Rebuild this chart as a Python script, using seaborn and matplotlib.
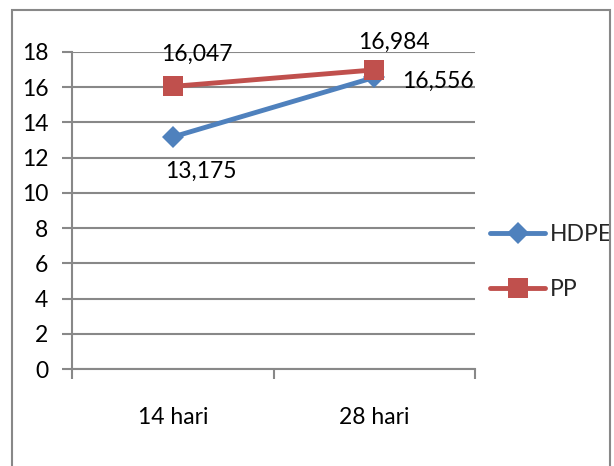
import pandas as pd
import seaborn as sns
import matplotlib.pyplot as plt
from matplotlib.patches import Rectangle

# data
categories = ['14 hari', '28 hari']
hdpe = [13.175, 16.556]
pp = [16.047, 16.984]
series_names = ['HDPE', 'PP']

df = pd.DataFrame({
    'umur': categories * 2,
    'nilai': hdpe + pp,
    'bahan': [series_names[0]] * 2 + [series_names[1]] * 2,
})

sns.set_style('white')
plt.rcParams['font.family'] = ['Lato', 'DejaVu Sans']
fs = 16.5

fig = plt.figure(figsize=(6.14, 4.66), dpi=100)
ax = fig.add_axes([72 / 614, 1 - 369 / 466, (475 - 72) / 614, (369 - 52) / 466])

grid_col = '#888888'
palette = {'HDPE': '#4F81BD', 'PP': '#C0504D'}
sns.lineplot(data=df, x='umur', y='nilai', hue='bahan', style='bahan',
             palette=palette, markers={'HDPE': 'D', 'PP': 's'}, dashes=False,
             linewidth=3.5, markersize=11, markeredgewidth=0, ax=ax)
for ln in ax.lines:
    if ln.get_marker() == 's':
        ln.set_markersize(14)

ax.set_xlim(-0.5, 1.5)
ax.set_ylim(0, 18)
ax.set_yticks(range(0, 19, 2))
ax.yaxis.grid(True, color=grid_col, linewidth=1.5)
ax.set_axisbelow(True)
ax.set_xlabel('')
ax.set_ylabel('')
for s in ['top', 'right']:
    ax.spines[s].set_visible(False)
for s in ['left', 'bottom']:
    ax.spines[s].set_color(grid_col)
    ax.spines[s].set_linewidth(1.5)

ax.tick_params(axis='y', left=True, length=7, width=1.5, color=grid_col,
               pad=10, labelsize=fs, labelcolor='black')
ax.tick_params(axis='x', which='major', bottom=True, length=0, pad=27,
               labelsize=fs, labelcolor='black')
ax.set_xticks([-0.5, 0.5, 1.5], minor=True)
ax.tick_params(axis='x', which='minor', bottom=True, length=7, width=1.5,
               color=grid_col)

# data labels (offsets in pixels)
offsets = {'HDPE': [(28, -34), (64, -4)], 'PP': [(24, 32), (20, 28)]}
for name, vals in zip(series_names, [hdpe, pp]):
    for i, v in enumerate(vals):
        dx, dy = offsets[name][i]
        ax.annotate(f'{v:.3f}'.replace('.', ','), (i, v), xytext=(dx, dy),
                    textcoords='offset pixels', ha='center', va='center',
                    fontsize=fs, color='black')

handles, labels = ax.get_legend_handles_labels()
ax.legend(handles, labels, loc='center left', bbox_to_anchor=(479 / 614, 1 - 262 / 466),
          bbox_transform=fig.transFigure, frameon=False, fontsize=fs,
          handlelength=2.4, handletextpad=0.2, labelspacing=1.5, borderpad=0)

# chart border
fig.patches.append(Rectangle((12 / 614, -0.1), 598 / 614, 1.1 - 10 / 466,
                             transform=fig.transFigure, fill=False,
                             edgecolor=grid_col, linewidth=1.5))

fig.savefig('out.png', dpi=100)
